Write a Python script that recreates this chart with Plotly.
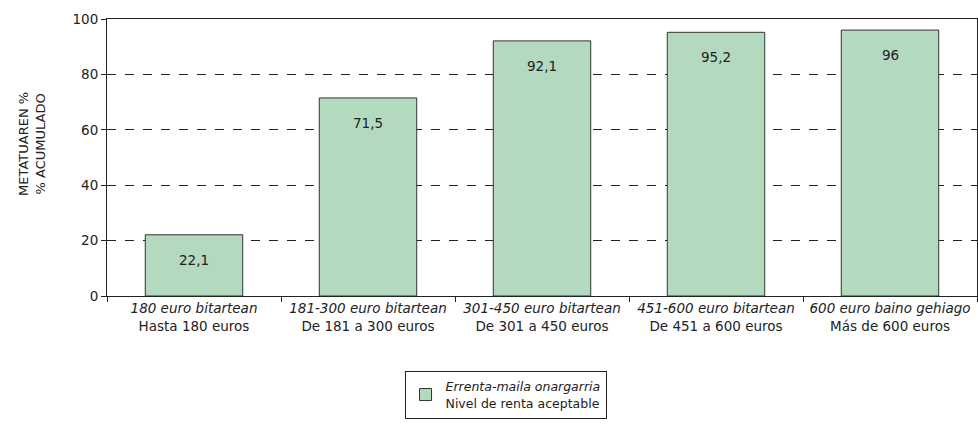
import plotly.graph_objects as go

# Datos
categorias_eus = ['180 euro bitartean', '181-300 euro bitartean', '301-450 euro bitartean',
                  '451-600 euro bitartean', '600 euro baino gehiago']
categorias_es = ['Hasta 180 euros', 'De 181 a 300 euros', 'De 301 a 450 euros',
                 'De 451 a 600 euros', 'Más de 600 euros']
acumulado = [22.1, 71.5, 92.1, 95.2, 96]

etiquetas = [f'<i>{e}</i><br>{s}' for e, s in zip(categorias_eus, categorias_es)]
textos = [f'{v:g}'.replace('.', ',') for v in acumulado]

fuente = 'DejaVu Sans, Verdana, sans-serif'

fig = go.Figure(go.Bar(
    x=etiquetas,
    y=acumulado,
    marker=dict(color='#b3d9bf', line=dict(color='#333333', width=1)),
    width=0.56,
    name='<i>Errenta-maila onargarria</i><br>Nivel de renta aceptable',
    showlegend=True,
))

# etiquetas de valor dentro de la barra, algo por debajo del borde superior
for x, y, t in zip(etiquetas, acumulado, textos):
    fig.add_annotation(x=x, y=y, text=t, showarrow=False, yanchor='top', yshift=-15,
                       font=dict(size=13.5, color='#222222', family=fuente))

fig.update_layout(
    width=978,
    height=425,
    margin=dict(l=107, r=1, t=19, b=129, autoexpand=False),
    plot_bgcolor='white',
    paper_bgcolor='white',
    font=dict(family=fuente, size=13.5, color='#222222'),
    showlegend=True,
    legend=dict(
        x=0.342, y=-0.27, xanchor='left', yanchor='top',
        bordercolor='#222222', borderwidth=1,
        font=dict(size=12.5),
        itemwidth=30,
    ),
)

# título del eje Y en dos líneas
fig.add_annotation(
    text='METATUAREN %<br>% ACUMULADO', xref='paper', yref='paper',
    x=-0.087, y=0.55, xanchor='center', yanchor='middle', textangle=-90,
    showarrow=False, font=dict(size=13, color='#222222', family=fuente),
)

fig.update_xaxes(
    automargin=False,
    showline=True, linecolor='#222222', linewidth=1, mirror=True,
    ticks='outside', tickson='boundaries', ticklen=5, tickcolor='#222222',
    showgrid=False,
)
fig.update_yaxes(
    automargin=False,
    range=[0, 100], tickvals=[0, 20, 40, 60, 80, 100],
    showline=True, linecolor='#222222', linewidth=1, mirror=True,
    ticks='outside', ticklen=5, tickcolor='#222222',
    showgrid=True, gridcolor='#222222', griddash='dash', gridwidth=1,
    zeroline=False,
)

# quitar el margen del body para que el gráfico ocupe toda la ventana
fig.write_html('out.html', config={'displayModeBar': False},
               post_script="document.body.style.margin='0';")
